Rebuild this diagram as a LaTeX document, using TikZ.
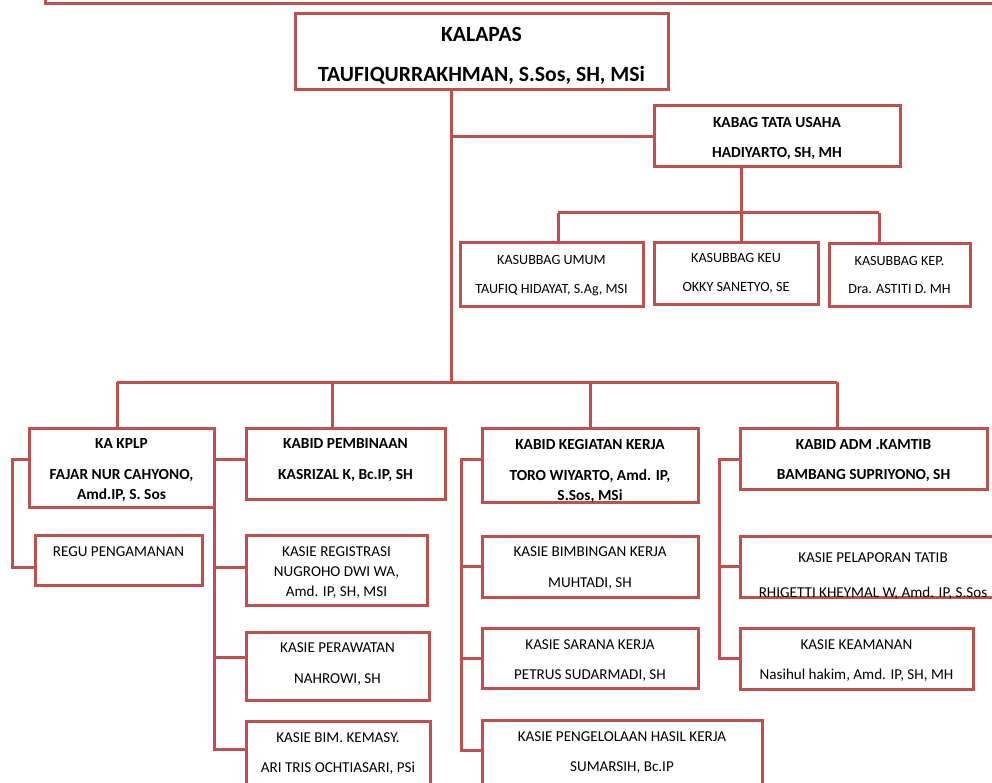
\documentclass[tikz,border=0pt]{standalone}
\usepackage{fontspec}
\setmainfont{Carlito}
\definecolor{lred}{RGB}{192,80,77}
\tikzset{
  box/.style={draw=lred, line width=3pt, inner sep=0pt, outer sep=0pt},
  conn/.style={draw=lred, line width=3pt, line join=miter},
  tbig/.style={font=\fontsize{21.7}{26}\selectfont\bfseries, inner sep=0pt, text height=13.7pt, text depth=0pt},
  tb/.style={font=\fontsize{15.4}{18}\selectfont\bfseries, inner sep=0pt, text height=9.7pt, text depth=0pt},
  tr/.style={font=\fontsize{15.1}{18}\selectfont, inner sep=0pt, text height=9.5pt, text depth=0pt},
  ts/.style={font=\fontsize{14.1}{16}\selectfont, inner sep=0pt, text height=8.9pt, text depth=0pt},
}
\newcommand\bx[5]{\node[box, minimum width={#4-#2}, minimum height={#5-#3}] (#1) at ({(#2+#4)/2},{(#3+#5)/2}) {};}
\newcommand\tx[5]{\node[#2] (#1) at (#3,#4) {#5};}
\begin{document}
\begin{tikzpicture}[x=1pt,y=-1pt]
\useasboundingbox (0,0) rectangle (992,783);
\clip (0,0) rectangle (992,783);
% boxes
\bx{topbox}{45}{-20}{1010}{4}
\bx{kalapas}{295}{14}{668}{90}
\bx{kabag}{654}{106}{900}{167}
\bx{umum}{460}{243}{643}{306}
\bx{keu}{654}{243}{818}{304}
\bx{kep}{829}{244}{970}{306}
\bx{kplp}{29}{428}{214}{507}
\bx{pemb}{246}{428}{445}{499}
\bx{keg}{482}{428}{698}{502}
\bx{adm}{740}{428}{987}{489}
\bx{regu}{35}{535}{202}{585}
\bx{reg}{246}{535}{427}{605}
\bx{peraw}{246}{632}{429}{700}
\bx{bimk}{246}{721}{430}{795}
\bx{bimb}{482}{536}{698}{597}
\bx{sarana}{482}{628}{698}{688}
\bx{pengel}{482}{720}{762}{795}
\bx{pelap}{740}{536}{1006}{597}
\bx{keam}{740}{628}{973}{689}
% texts
\tx{t1}{tbig}{481.5}{35}{KALAPAS}
\tx{t2}{tbig}{481.5}{75}{TAUFIQURRAKHMAN, S.Sos, SH, MSi}
\tx{t3}{tb}{777}{123}{KABAG TATA USAHA}
\tx{t4}{tb}{777}{153}{HADIYARTO, SH, MH}
\tx{t5}{ts}{551.5}{260}{KASUBBAG UMUM}
\tx{t6}{ts}{551.5}{289}{TAUFIQ HIDAYAT, S.Ag, MSI}
\tx{t7}{ts}{736}{258}{KASUBBAG KEU}
\tx{t8}{ts}{736}{287}{OKKY SANETYO, SE}
\tx{t9}{ts}{899.5}{261}{KASUBBAG KEP.}
\tx{t10}{ts}{899.5}{289}{Dra. ASTITI D. MH}
\tx{t11}{tb}{121.5}{444}{KA KPLP}
\tx{t12}{tb}{121.5}{475}{FAJAR NUR CAHYONO,}
\tx{t13}{tb}{121.5}{495}{Amd.IP, S. Sos}
\tx{t14}{tb}{345.5}{444}{KABID PEMBINAAN}
\tx{t15}{tb}{345.5}{475}{KASRIZAL K, Bc.IP, SH}
\tx{t16}{tb}{590}{445}{KABID KEGIATAN KERJA}
\tx{t17}{tb}{590}{476}{TORO WIYARTO, Amd. IP,}
\tx{t18}{tb}{590}{496}{S.Sos, MSi}
\tx{t19}{tb}{863.5}{445}{KABID ADM .KAMTIB}
\tx{t20}{tb}{863.5}{475}{BAMBANG SUPRIYONO, SH}
\tx{t21}{tr}{118.5}{552}{REGU PENGAMANAN}
\tx{t22}{tr}{336.5}{552}{KASIE REGISTRASI}
\tx{t23}{tr}{336.5}{572}{NUGROHO DWI WA,}
\tx{t24}{tr}{336.5}{592}{Amd. IP, SH, MSI}
\tx{t25}{tr}{337.5}{648}{KASIE PERAWATAN}
\tx{t26}{tr}{337.5}{679}{NAHROWI, SH}
\tx{t27}{tr}{338}{738}{KASIE BIM. KEMASY.}
\tx{t28}{tr}{338}{768}{ARI TRIS OCHTIASARI, PSi}
\tx{t29}{tr}{590}{552}{KASIE BIMBINGAN KERJA}
\tx{t30}{tr}{590}{583}{MUHTADI, SH}
\tx{t31}{tr}{590}{645}{KASIE SARANA KERJA}
\tx{t32}{tr}{590}{675}{PETRUS SUDARMADI, SH}
\tx{t33}{tr}{622}{737}{KASIE PENGELOLAAN HASIL KERJA}
\tx{t34}{tr}{622}{767}{SUMARSIH, Bc.IP}
\tx{t35}{tr}{873}{558}{KASIE PELAPORAN TATIB}
\tx{t36}{tr}{873}{593}{RHIGETTI KHEYMAL W, Amd. IP, S.Sos}
\tx{t37}{tr}{856.5}{645}{KASIE KEAMANAN}
\tx{t38}{tr}{856.5}{675}{Nasihul hakim, Amd. IP, SH, MH}
% junction coordinates
\coordinate (tj) at (451,382);
\coordinate (b1) at (117,382);
\coordinate (b2) at (332,382);
\coordinate (b3) at (590,382);
\coordinate (b4) at (837,382);
\coordinate (s1) at (558,213);
\coordinate (s2) at (741,213);
\coordinate (s3) at (879,213);
\coordinate (k1) at (12,459);
\coordinate (k2) at (12,567);
\coordinate (p1) at (214,459);
\coordinate (p2) at (214,567);
\coordinate (p3) at (214,657);
\coordinate (p4) at (214,749);
\coordinate (g1) at (461,459);
\coordinate (g2) at (461,566);
\coordinate (g3) at (461,658);
\coordinate (g4) at (461,750);
\coordinate (a1) at (719,459);
\coordinate (a2) at (719,566);
\coordinate (a3) at (719,658);
% connectors
\draw[conn] (kalapas.south -| tj) -- (tj);
\draw[conn] (tj |- kabag.west) -- (kabag.west);
\draw[conn] (b1) -- (b4);
\draw[conn] (b1) -- (b1 |- kplp.north);
\draw[conn] (b2) -- (b2 |- pemb.north);
\draw[conn] (b3) -- (b3 |- keg.north);
\draw[conn] (b4) -- (b4 |- adm.north);
\draw[conn] (kabag.south -| s2) -- (s2);
\draw[conn] (s1) -- (s3);
\draw[conn] (s1) -- (s1 |- umum.north);
\draw[conn] (s2) -- (s2 |- keu.north);
\draw[conn] (s3) -- (s3 |- kep.north);
\draw[conn] (k1 -| kplp.west) -- (k1) -- (k2) -- (k2 -| regu.west);
\draw[conn] (p1 -| pemb.west) -- (p1) -- (p4) -- (p4 -| bimk.west);
\draw[conn] (p2) -- (p2 -| reg.west);
\draw[conn] (p3) -- (p3 -| peraw.west);
\draw[conn] (g1 -| keg.west) -- (g1) -- (g4) -- (g4 -| pengel.west);
\draw[conn] (g2) -- (g2 -| bimb.west);
\draw[conn] (g3) -- (g3 -| sarana.west);
\draw[conn] (a1 -| adm.west) -- (a1) -- (a3) -- (a3 -| keam.west);
\draw[conn] (a2) -- (a2 -| pelap.west);
\end{tikzpicture}
\end{document}
